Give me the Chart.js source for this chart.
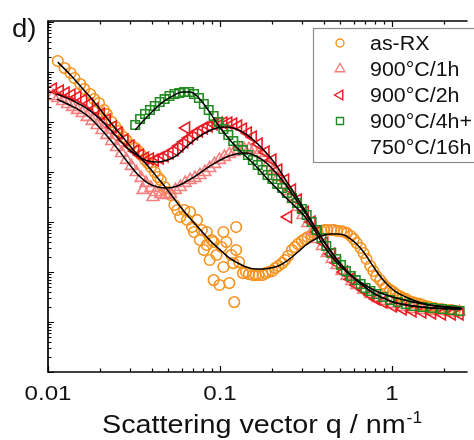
<!DOCTYPE html>
<html>
<head>
<meta charset="utf-8">
<script src="https://cdn.jsdelivr.net/npm/chart.js@4.4.0/dist/chart.umd.min.js"></script>
<style>
  html, body { margin: 0; padding: 0; background: #fff; overflow: hidden; }
</style>
</head>
<body>
<canvas id="graficaSaxs" width="474" height="440"></canvas>
<script>
// as-RX
const qAsRx = [0.0114, 0.0125, 0.01352, 0.01425, 0.01542, 0.01625, 0.01758, 0.01853, 0.01979, 0.02113, 0.02197, 0.02346, 0.02473, 0.02572, 0.02746, 0.02856, 0.0305, 0.03215, 0.03344, 0.03478, 0.03666, 0.03813, 0.03966, 0.0418, 0.04347, 0.04521, 0.04765, 0.04956, 0.05155, 0.05433, 0.0565, 0.05876, 0.06194, 0.06442, 0.067, 0.06879, 0.07063, 0.07346, 0.0764, 0.07843, 0.08054, 0.08376, 0.08376, 0.08712, 0.08944, 0.09183, 0.09183, 0.09552, 0.09935, 0.102, 0.1047, 0.1047, 0.1089, 0.1133, 0.1163, 0.1194, 0.121, 0.1242, 0.1242, 0.1291, 0.1361, 0.1416, 0.1473, 0.1553, 0.1614, 0.1679, 0.177, 0.1841, 0.1915, 0.2018, 0.2099, 0.2183, 0.2301, 0.2393, 0.2489, 0.2623, 0.2729, 0.2838, 0.2991, 0.3111, 0.3236, 0.341, 0.3547, 0.369, 0.3887, 0.4045, 0.4206, 0.4435, 0.4612, 0.4797, 0.5055, 0.5258, 0.5469, 0.5763, 0.5995, 0.6235, 0.6572, 0.6835, 0.711, 0.7493, 0.7795, 0.8107, 0.8545, 0.8888, 0.9244, 0.9741, 1.013, 1.054, 1.111, 1.155, 1.202, 1.266, 1.317, 1.37, 1.444, 1.502, 1.562, 1.646, 1.712, 1.781, 1.877, 1.953, 2.031, 2.141, 2.226, 2.316, 2.441];
const iAsRx = [1.66e6, 1.2e6, 9.55e5, 7.59e5, 5.75e5, 4.57e5, 3.63e5, 2.88e5, 2.4e5, 1.74e5, 1.44e5, 1.0e5, 7.94e4, 6.61e4, 5.01e4, 4.37e4, 3.47e4, 3.02e4, 2.63e4, 2.19e4, 1.74e4, 1.51e4, 1.26e4, 1.0e4, 7940, 6920, 5010, 3980, 3470, 2190, 1740, 1260, 1740, 1100, 1580, 794, 631, 1100, 437, 692, 275, 631, 347, 174, 437, 69, 398, 219, 55, 316, 126, 631, 398, 60, 219, 151, 25, 794, 275, 158, 95, 100, 91, 87, 87, 87, 87, 95, 100, 105, 120, 132, 151, 174, 209, 275, 316, 363, 417, 457, 501, 550, 603, 631, 661, 692, 692, 692, 692, 661, 661, 631, 603, 525, 457, 380, 302, 240, 182, 132, 105, 83, 69, 58, 50, 44, 40, 36, 33, 30, 29, 26, 25, 24, 23, 22, 21, 20, 19, 19, 18.2, 18.2, 17.4, 17.4, 17.4, 16.6, 16.6];

// 900°C/1h
const q1h = [0.01068, 0.0114, 0.01218, 0.013, 0.01388, 0.01483, 0.01582, 0.0169, 0.01804, 0.01927, 0.02058, 0.02197, 0.02346, 0.02505, 0.02675, 0.02856, 0.0305, 0.03257, 0.03478, 0.03571, 0.03714, 0.03966, 0.04072, 0.04235, 0.04521, 0.04828, 0.05155, 0.05504, 0.05876, 0.06275, 0.067, 0.07155, 0.0764, 0.08159, 0.08712, 0.093, 0.09935, 0.1061, 0.1133, 0.121, 0.1291, 0.1379, 0.1473, 0.1573, 0.1679, 0.1793, 0.1915, 0.2045, 0.2183, 0.2331, 0.2489, 0.2658, 0.2838, 0.303, 0.3236, 0.3455, 0.369, 0.3939, 0.4206, 0.4493, 0.4797, 0.5122, 0.5469, 0.584, 0.6235, 0.6835, 0.7493, 0.8322, 0.9244, 1.013, 1.155, 1.317, 1.502, 1.712, 1.953, 2.226, 2.473];
const i1h = [3.31e5, 3.02e5, 2.63e5, 2.29e5, 2.0e5, 1.74e5, 1.51e5, 1.26e5, 1.05e5, 8.71e4, 6.92e4, 5.5e4, 4.17e4, 3.16e4, 2.4e4, 1.74e4, 1.32e4, 1.0e4, 7590, 4370, 6030, 4790, 3160, 3980, 3630, 3470, 3630, 4370, 5010, 6030, 6920, 7590, 8710, 1.0e4, 1.2e4, 1.45e4, 1.74e4, 2.0e4, 2.29e4, 2.51e4, 2.75e4, 2.88e4, 2.88e4, 2.75e4, 2.4e4, 2.0e4, 1.51e4, 1.1e4, 7940, 5750, 4170, 2880, 2000, 1380, 955, 661, 457, 331, 240, 182, 138, 105, 83, 66, 55, 44, 36.3, 30.2, 26.3, 22.9, 20, 18.2, 17.4, 16.6, 16.6, 15.8, 15.8];

// 900°C/2h
const q2h = [0.01068, 0.01171, 0.01266, 0.0137, 0.01483, 0.01604, 0.01735, 0.01877, 0.02031, 0.02197, 0.02377, 0.02572, 0.02783, 0.0301, 0.03215, 0.03432, 0.03666, 0.03914, 0.0418, 0.04462, 0.04765, 0.05089, 0.05433, 0.058, 0.06194, 0.06357, 0.06613, 0.07063, 0.07541, 0.08054, 0.08599, 0.09183, 0.09806, 0.1047, 0.1118, 0.1194, 0.1275, 0.1361, 0.1453, 0.1553, 0.1679, 0.1841, 0.2018, 0.2183, 0.2393, 0.2489, 0.2623, 0.2838, 0.3111, 0.341, 0.369, 0.4045, 0.4435, 0.4797, 0.5258, 0.5763, 0.6235, 0.6835, 0.7493, 0.8107, 0.8888, 1.013, 1.155, 1.317, 1.502, 1.712, 1.953, 2.226, 2.473];
const i2h = [4.57e5, 4.17e5, 3.8e5, 3.47e5, 3.16e5, 2.75e5, 2.29e5, 1.82e5, 1.45e5, 1.1e5, 7.94e4, 6.03e4, 4.37e4, 3.31e4, 2.63e4, 2.19e4, 1.91e4, 1.82e4, 1.74e4, 1.91e4, 2.09e4, 2.4e4, 2.75e4, 3.31e4, 3.98e4, 7.59e4, 4.79e4, 5.75e4, 6.61e4, 7.59e4, 8.32e4, 9.12e4, 9.55e4, 9.55e4, 9.55e4, 9.12e4, 8.32e4, 7.24e4, 6.03e4, 5.01e4, 3.63e4, 2.51e4, 1.74e4, 1.1e4, 6920, 1260, 4370, 2750, 1580, 1000, 631, 380, 229, 151, 100, 72, 55, 44, 35, 28.8, 25.1, 20.9, 18.2, 16.6, 15.8, 15.1, 14.5, 14.5, 14.5];

// 900°C/4h + 750°C/16h
const q4h = [0.03215, 0.03432, 0.03666, 0.03914, 0.0418, 0.04462, 0.04765, 0.05089, 0.05433, 0.058, 0.06194, 0.06613, 0.07063, 0.07541, 0.08054, 0.08599, 0.09183, 0.09806, 0.1047, 0.1118, 0.1194, 0.1275, 0.1361, 0.1453, 0.1553, 0.1657, 0.177, 0.189, 0.2018, 0.2154, 0.2301, 0.2457, 0.2623, 0.2801, 0.2991, 0.3193, 0.341, 0.3641, 0.3887, 0.4151, 0.4435, 0.4734, 0.5055, 0.5397, 0.5763, 0.6153, 0.6572, 0.7018, 0.7493, 0.8107, 0.8888, 0.9741, 1.082, 1.202, 1.335, 1.502, 1.712, 1.953, 2.226, 2.473];
const i4h = [8.71e4, 1.15e5, 1.45e5, 1.74e5, 2.09e5, 2.51e5, 2.88e5, 3.31e5, 3.63e5, 3.8e5, 3.98e5, 3.98e5, 3.63e5, 3.02e5, 2.29e5, 1.74e5, 1.32e5, 1.0e5, 7.24e4, 5.5e4, 4.17e4, 3.31e4, 2.75e4, 2.19e4, 1.74e4, 1.38e4, 1.1e4, 8710, 7240, 5750, 4790, 3800, 3020, 2400, 1820, 1380, 1000, 692, 479, 331, 240, 182, 138, 105, 83, 69, 57.5, 48, 41.7, 36.3, 31.6, 27.5, 25.1, 22.9, 20.9, 20, 19.1, 18.2, 17.4, 16.6];

// fits
const qFitAsRx = [0.0114, 0.01352, 0.01542, 0.01758, 0.01979, 0.02346, 0.02746, 0.03215, 0.03813, 0.04347, 0.04956, 0.0565, 0.06442, 0.07346, 0.08376, 0.09183, 0.102, 0.1133, 0.1242, 0.1416, 0.1614, 0.177, 0.1966, 0.2183, 0.2393, 0.2623, 0.2838, 0.3111, 0.341, 0.369, 0.4045, 0.4435, 0.4797, 0.5258, 0.5763, 0.6235, 0.6835, 0.7493, 0.8107, 0.8888, 0.9741, 1.054, 1.202, 1.37, 1.646, 1.953, 2.539];
const iFitAsRx = [1.58e6, 8.71e5, 5.25e5, 3.16e5, 1.91e5, 9.12e4, 4.79e4, 2.51e4, 1.32e4, 7590, 4370, 2400, 1380, 832, 501, 363, 263, 191, 158, 126, 115, 115, 120, 132, 158, 200, 251, 331, 417, 479, 550, 575, 575, 550, 457, 363, 251, 158, 105, 69, 50, 40, 31.6, 26.3, 21.9, 20, 18.2];
const qFit1h = [0.01125, 0.01335, 0.01521, 0.01735, 0.01979, 0.02256, 0.02572, 0.02933, 0.03344, 0.03813, 0.04347, 0.04956, 0.0565, 0.06442, 0.07346, 0.08376, 0.09552, 0.1089, 0.1242, 0.1416, 0.1614, 0.1841, 0.2099, 0.2393, 0.2729, 0.3111, 0.3547, 0.4045, 0.4612, 0.5258, 0.5995, 0.6835, 0.7795, 0.8888, 1.013, 1.317, 1.712, 2.539];
const iFit1h = [2.88e5, 2.19e5, 1.74e5, 1.26e5, 7.94e4, 4.79e4, 2.75e4, 1.51e4, 8710, 6030, 5010, 4790, 5250, 6610, 8710, 1.2e4, 1.58e4, 2.0e4, 2.29e4, 2.4e4, 2.09e4, 1.58e4, 1.0e4, 5750, 3020, 1580, 794, 398, 209, 120, 76, 52.5, 38, 30.2, 25.1, 20.9, 19.1, 18.2];
const qFit2h = [0.01125, 0.01335, 0.01521, 0.01735, 0.01979, 0.02256, 0.02572, 0.02933, 0.03344, 0.03813, 0.04347, 0.04956, 0.0565, 0.06442, 0.07346, 0.08376, 0.09552, 0.1089, 0.1242, 0.1416, 0.1614, 0.1841, 0.2099, 0.2393, 0.2729, 0.3111, 0.3547, 0.4045, 0.4612, 0.5258, 0.5995, 0.6835, 0.7795, 0.8888, 1.013, 1.317, 1.712, 2.539];
const iFit2h = [3.63e5, 2.88e5, 2.29e5, 1.74e5, 1.2e5, 7.59e4, 4.57e4, 2.88e4, 2.09e4, 1.66e4, 1.58e4, 1.74e4, 2.19e4, 3.31e4, 4.79e4, 6.31e4, 7.59e4, 7.94e4, 7.24e4, 5.75e4, 3.98e4, 2.51e4, 1.45e4, 7240, 3630, 1740, 832, 398, 209, 120, 76, 52.5, 38, 30.2, 25.1, 20.9, 19.1, 18.2];
const qFit4h = [0.03215, 0.03571, 0.04072, 0.04642, 0.05291, 0.06033, 0.067, 0.07346, 0.08054, 0.08944, 0.09935, 0.1118, 0.1242, 0.1553, 0.1915, 0.2393, 0.2991, 0.3547, 0.3887, 0.4435, 0.5055, 0.584, 0.6835, 0.8322, 1.054, 1.646, 2.539];
const iFit4h = [6.92e4, 1.05e5, 1.66e5, 2.51e5, 3.31e5, 3.98e5, 3.98e5, 3.31e5, 2.29e5, 1.38e5, 7.94e4, 4.79e4, 3.16e4, 1.51e4, 6920, 3160, 1510, 692, 398, 209, 126, 83, 57.5, 39.8, 30.2, 21.9, 19.1];

const seriesLabels = ["as-RX", "900°C/1h", "900°C/2h", "900°C/4h+", "750°C/16h"];
const xTickLabels = [0.01, 0.1, 1];
const xTitle = "Scattering vector q / nm";
const xTitleSup = "-1";
const panelLabel = "d)";

const colNaranja = "#f7921e";
const colRosa = "#f57f7f";
const colRojo = "#ec1c24";
const colVerde = "#228b22";
const FONT = "'Liberation Sans', Arial, sans-serif";

function puntos(qs, is) {
  return qs.map(function (q, k) { return { x: q, y: is[k] }; });
}

function serie(label, qs, is, color, style, radius, rotation, order) {
  return {
    label: label,
    data: puntos(qs, is),
    showLine: false,
    pointStyle: style,
    pointRadius: radius,
    pointRotation: rotation,
    pointBorderWidth: 1.6,
    pointBorderColor: color,
    pointBackgroundColor: "rgba(0,0,0,0)",
    borderColor: color,
    order: order,
  };
}

function ajuste(qs, is) {
  return {
    label: "fit",
    data: puntos(qs, is),
    showLine: true,
    borderColor: "#000",
    borderWidth: 1.5,
    pointRadius: 0,
    cubicInterpolationMode: "monotone",
    order: 0,
  };
}

function texto(ctx, str, x, y, size, sx, align) {
  ctx.save();
  ctx.font = size + "px " + FONT;
  ctx.fillStyle = "#111";
  ctx.textBaseline = "alphabetic";
  ctx.textAlign = align || "left";
  ctx.translate(x, y);
  ctx.scale(sx, 1);
  ctx.fillText(str, 0, 0);
  ctx.restore();
}

const marcoPlugin = {
  id: "marco",
  afterDraw(chart) {
    const ctx = chart.ctx;
    const a = chart.chartArea;
    const sx = chart.scales.x;
    const sy = chart.scales.y;

    ctx.save();
    ctx.strokeStyle = "#000";
    ctx.lineWidth = 1.7;
    ctx.beginPath();
    ctx.moveTo(a.right + 2, a.top);
    ctx.lineTo(a.left, a.top);
    ctx.lineTo(a.left, a.bottom);
    ctx.lineTo(a.right + 2, a.bottom);
    ctx.stroke();

    // ticks hacia dentro
    ctx.lineWidth = 1.2;
    ctx.beginPath();
    for (let d = -2; d <= 0; d++) {
      for (let m = 1; m <= 9; m++) {
        const v = m * Math.pow(10, d);
        if (v > sx.max) continue;
        const px = Math.round(sx.getPixelForValue(v)) + 0.5;
        const len = m === 1 ? 6 : 3.5;
        ctx.moveTo(px, a.bottom);
        ctx.lineTo(px, a.bottom - len);
        ctx.moveTo(px, a.top);
        ctx.lineTo(px, a.top + len);
      }
    }
    for (let d = 0; d <= 7; d++) {
      for (let m = 1; m <= 9; m++) {
        const v = m * Math.pow(10, d);
        if (v > sy.max) continue;
        const py = Math.round(sy.getPixelForValue(v)) + 0.5;
        const len = m === 1 ? 6 : 3.5;
        ctx.moveTo(a.left, py);
        ctx.lineTo(a.left + len, py);
      }
    }
    ctx.stroke();
    ctx.restore();

    // etiquetas del eje x
    xTickLabels.forEach(function (v) {
      texto(ctx, String(v), sx.getPixelForValue(v), a.bottom + 28, 21, 1.15, "center");
    });

    // titulo del eje x con superindice
    const tx = 102;
    const ty = 433;
    ctx.save();
    ctx.font = "25px " + FONT;
    const w = ctx.measureText(xTitle).width * 1.15;
    ctx.restore();
    texto(ctx, xTitle, tx, ty, 25, 1.15, "left");
    texto(ctx, xTitleSup, tx + w + 1, ty - 10, 16, 1.1, "left");

    texto(ctx, panelLabel, 12, 37, 25, 1.1, "left");

    // leyenda
    ctx.save();
    ctx.fillStyle = "#fff";
    ctx.strokeStyle = "#8c8c8c";
    ctx.lineWidth = 1.2;
    ctx.fillRect(313.5, 28.5, 170, 134);
    ctx.strokeRect(313.5, 28.5, 170, 134);
    ctx.restore();

    const marcas = [
      { color: colNaranja, style: "circle", r: 4, rot: 0 },
      { color: colRosa, style: "triangle", r: 5.5, rot: 0 },
      { color: colRojo, style: "triangle", r: 5.5, rot: -90 },
      { color: colVerde, style: "rect", r: 5, rot: 0 },
    ];
    marcas.forEach(function (m, k) {
      const cy = 43 + k * 26;
      ctx.save();
      ctx.strokeStyle = m.color;
      ctx.fillStyle = "rgba(0,0,0,0)";
      ctx.lineWidth = 1.4;
      Chart.helpers.drawPoint(ctx, { pointStyle: m.style, radius: m.r, rotation: m.rot, borderWidth: 1.4 }, 340, cy);
      ctx.restore();
    });
    seriesLabels.forEach(function (t, k) {
      texto(ctx, t, 370, 50 + k * 26, 20, 1.07, "left");
    });
  },
};

new Chart(document.getElementById("graficaSaxs"), {
  type: "scatter",
  data: {
    datasets: [
      ajuste(qFitAsRx, iFitAsRx),
      ajuste(qFit1h, iFit1h),
      ajuste(qFit2h, iFit2h),
      ajuste(qFit4h, iFit4h),
      serie(seriesLabels[3], q4h, i4h, colVerde, "rect", 6, 0, 1),
      serie(seriesLabels[2], q2h, i2h, colRojo, "triangle", 6.8, -90, 2),
      serie(seriesLabels[1], q1h, i1h, colRosa, "triangle", 6.8, 0, 3),
      serie(seriesLabels[0], qAsRx, iAsRx, colNaranja, "circle", 5.3, 0, 4),
    ],
  },
  options: {
    responsive: false,
    animation: false,
    events: [],
    layout: { padding: { left: 48, top: 21, right: 0, bottom: 68 } },
    plugins: {
      legend: { display: false },
      tooltip: { enabled: false },
    },
    scales: {
      x: { type: "logarithmic", min: 0.01, max: 2.68, display: false },
      y: { type: "logarithmic", min: 1, max: 1.05e7, display: false },
    },
  },
  plugins: [marcoPlugin],
});
</script>
</body>
</html>
